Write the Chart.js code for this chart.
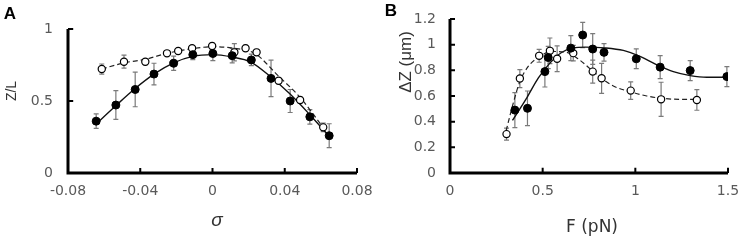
<!DOCTYPE html>
<html>
<head>
<meta charset="utf-8">
<script src="https://cdn.jsdelivr.net/npm/chart.js@4.4.1/dist/chart.umd.min.js"></script>
<style>
  html, body { margin: 0; padding: 0; background: #fff; }
  #wrap { position: relative; width: 744px; height: 240px; }
  .panel { position: absolute; top: 0; width: 372px; height: 240px; }
</style>
</head>
<body>
<div id="wrap">
  <div class="panel" style="left:0"><canvas id="panelA" width="372" height="240"></canvas></div>
  <div class="panel" style="left:372px"><canvas id="panelB" width="372" height="240"></canvas></div>
</div>
<script>
// ---- Panel A: Z/L against sigma ----
const sigmaFilled = [-0.0644, -0.0535, -0.0428, -0.0324, -0.0215, -0.0109, 0.0002, 0.0109, 0.0215, 0.0324, 0.043, 0.0539, 0.0646];
const zlFilled    = [0.36, 0.472, 0.58, 0.687, 0.762, 0.822, 0.83, 0.815, 0.785, 0.657, 0.5, 0.39, 0.259];
const zlFilledErr = [0.05, 0.1, 0.12, 0.075, 0.05, 0.035, 0.05, 0.05, 0.04, 0.127, 0.08, 0.05, 0.083];

const sigmaOpen  = [-0.0613, -0.049, -0.0372, -0.0252, -0.019, -0.0113, -0.0002, 0.0121, 0.0183, 0.0244, 0.0366, 0.0485, 0.0613];
const zlOpen     = [0.722, 0.773, 0.773, 0.831, 0.847, 0.866, 0.882, 0.838, 0.866, 0.838, 0.641, 0.507, 0.317];
const zlOpenErr  = [0.035, 0.045, 0.02, 0.015, 0.015, 0.015, 0.02, 0.06, 0.02, 0.02, 0.02, 0.02, 0.03];

// fitted curves
const sigmaFitSolid = [-0.0645, -0.054, -0.043, -0.032, -0.0215, -0.011, 0, 0.011, 0.021, 0.032, 0.0425, 0.0535, 0.064];
const zlFitSolid    = [0.34, 0.462, 0.585, 0.69, 0.765, 0.81, 0.822, 0.805, 0.772, 0.67, 0.553, 0.41, 0.264];
const sigmaFitDash  = [-0.0613, -0.049, -0.037, -0.025, -0.012, 0, 0.012, 0.0235, 0.036, 0.0485, 0.0545, 0.061];
const zlFitDash     = [0.722, 0.765, 0.79, 0.832, 0.862, 0.877, 0.866, 0.83, 0.68, 0.525, 0.43, 0.32];

const sigmaTicks = [-0.08, -0.04, 0, 0.04, 0.08];
const sigmaTickLabels = ['-0.08', '-0.04', '0', '0.04', '0.08'];
const zlTicks = [0, 0.5, 1];
const zlTickLabels = ['0', '0.5', '1'];

// ---- Panel B: delta Z against F ----
const fFilled     = [0.35, 0.418, 0.512, 0.53, 0.652, 0.716, 0.77, 0.831, 1.005, 1.134, 1.296, 1.494];
const dzFilled    = [0.49, 0.504, 0.79, 0.9, 0.973, 1.075, 0.966, 0.94, 0.89, 0.825, 0.798, 0.751];
const dzFilledErr = [0.137, 0.135, 0.12, 0.086, 0.098, 0.098, 0.12, 0.068, 0.077, 0.089, 0.078, 0.078];

const fOpen     = [0.305, 0.377, 0.481, 0.539, 0.578, 0.665, 0.77, 0.818, 0.975, 1.139, 1.332];
const dzOpen    = [0.303, 0.736, 0.913, 0.952, 0.89, 0.934, 0.79, 0.738, 0.642, 0.574, 0.569];
const dzOpenErr = [0.047, 0.07, 0.05, 0.1, 0.1, 0.06, 0.09, 0.117, 0.068, 0.133, 0.08];

const fFitSolid  = [0.337, 0.416, 0.476, 0.539, 0.602, 0.665, 0.73, 0.836, 0.935, 1.025, 1.116, 1.205, 1.296, 1.386, 1.494];
const dzFitSolid = [0.41, 0.59, 0.739, 0.856, 0.939, 0.975, 0.981, 0.975, 0.955, 0.908, 0.843, 0.79, 0.759, 0.746, 0.746];
const fFitDash   = [0.303, 0.341, 0.377, 0.422, 0.485, 0.548, 0.629, 0.70, 0.773, 0.818, 0.881, 0.971, 1.062, 1.143, 1.242, 1.332];
const dzFitDash  = [0.33, 0.543, 0.712, 0.83, 0.908, 0.947, 0.94, 0.88, 0.79, 0.738, 0.678, 0.634, 0.6, 0.582, 0.574, 0.574];

const fTicks = [0, 0.5, 1, 1.5];
const fTickLabels = ['0', '0.5', '1', '1.5'];
const dzTicks = [0, 0.2, 0.4, 0.6, 0.8, 1, 1.2];
const dzTickLabels = ['0', '0.2', '0.4', '0.6', '0.8', '1', '1.2'];

function pts(xs, ys) {
    return xs.map((x, i) => ({ x: x, y: ys[i] }));
}

// vertical error bars with small caps, drawn under the markers
const errorBars = {
    id: 'errorBars',
    beforeDatasetsDraw(chart) {
        const ctx = chart.ctx;
        const xs = chart.scales.x, ys = chart.scales.y;
        ctx.save();
        ctx.strokeStyle = '#7a7a7a';
        ctx.lineWidth = 1.2;
        chart.data.datasets.forEach(ds => {
            if (!ds.errors) return;
            ds.data.forEach((p, i) => {
                const e = ds.errors[i];
                const px = xs.getPixelForValue(p.x);
                const top = ys.getPixelForValue(p.y + e);
                const bot = ys.getPixelForValue(p.y - e);
                ctx.beginPath();
                ctx.moveTo(px, top); ctx.lineTo(px, bot);
                ctx.moveTo(px - 2.5, top); ctx.lineTo(px + 2.5, top);
                ctx.moveTo(px - 2.5, bot); ctx.lineTo(px + 2.5, bot);
                ctx.stroke();
            });
        });
        ctx.restore();
    }
};

// axis titles and panel letter
const titles = {
    id: 'titles',
    afterDraw(chart, args, opts) {
        const ctx = chart.ctx;
        opts.items.forEach(it => {
            ctx.save();
            ctx.translate(it.x, it.y);
            if (it.rotate) ctx.rotate(it.rotate);
            ctx.font = it.font;
            ctx.fillStyle = it.color;
            ctx.textAlign = 'center';
            ctx.textBaseline = 'middle';
            ctx.fillText(it.text, 0, 0);
            ctx.restore();
        });
    }
};

// the L-shaped frame (left and bottom axis) as a plain line dataset
function axisFrame(xmin, xmax, ymin, ymax) {
    return {
        data: [{ x: xmin, y: ymax }, { x: xmin, y: ymin }, { x: xmax, y: ymin }],
        showLine: true,
        pointRadius: 0,
        borderColor: '#000',
        borderWidth: 3,
        borderJoinStyle: 'miter',
        tension: 0,
        clip: false,
        order: 0
    };
}

// short inward tick marks, one segment per tick, separated by gaps
function axisTicks(xTicks, yTicks, xmin, xmax, ymin, ymax) {
    const dy = (ymax - ymin) * 0.034;
    const dx = (xmax - xmin) * 0.018;
    const data = [];
    xTicks.forEach(v => {
        data.push({ x: v, y: ymin }, { x: v, y: ymin + dy }, { x: null, y: null });
    });
    yTicks.forEach(v => {
        data.push({ x: xmin, y: v }, { x: xmin + dx, y: v }, { x: null, y: null });
    });
    return {
        data: data,
        showLine: true,
        spanGaps: false,
        pointRadius: 0,
        borderColor: '#000',
        borderWidth: 2,
        tension: 0,
        clip: false,
        order: 0
    };
}

function axis(min, max, tickVals, tickText, size, horizontal, pad) {
    return {
        type: 'linear',
        min: min,
        max: max,
        afterBuildTicks: s => { s.ticks = tickVals.map(v => ({ value: v })); },
        afterFit: s => {
            if (horizontal) { s.height = size; s.paddingLeft = 0; s.paddingRight = 0; }
            else { s.width = size; s.paddingTop = 0; s.paddingBottom = 0; }
        },
        border: { display: false },
        grid: { display: false, drawTicks: false },
        ticks: {
            color: '#595959',
            autoSkip: false,
            maxRotation: 0,
            font: { family: 'DejaVu Sans', size: 14 },
            padding: pad,
            callback: (v, i) => tickText[i]
        }
    };
}

function fitLine(xs, ys, dashed) {
    return {
        data: pts(xs, ys),
        showLine: true,
        pointRadius: 0,
        borderColor: dashed ? '#222' : '#111',
        borderWidth: dashed ? 1.2 : 1.4,
        borderDash: dashed ? [5, 3] : [],
        cubicInterpolationMode: 'monotone',
        order: dashed ? 3 : 4
    };
}

function markers(xs, ys, errs, open) {
    return {
        data: pts(xs, ys),
        errors: errs,
        showLine: false,
        pointRadius: open ? 3.6 : 4,
        pointBackgroundColor: open ? '#fff' : '#000',
        pointBorderColor: '#000',
        pointBorderWidth: open ? 1.2 : 1,
        order: open ? 2 : 1
    };
}

function baseOptions(pad, xAxis, yAxis, items) {
    return {
        responsive: false,
        animation: false,
        layout: { padding: pad },
        scales: { x: xAxis, y: yAxis },
        plugins: {
            legend: { display: false },
            tooltip: { enabled: false },
            titles: { items: items }
        }
    };
}

new Chart(document.getElementById('panelA'), {
    type: 'scatter',
    data: {
        datasets: [
            fitLine(sigmaFitSolid, zlFitSolid, false),
            fitLine(sigmaFitDash, zlFitDash, true),
            markers(sigmaOpen, zlOpen, zlOpenErr, true),
            markers(sigmaFilled, zlFilled, zlFilledErr, false),
            axisFrame(-0.08, 0.08, 0, 1),
            axisTicks(sigmaTicks, zlTicks, -0.08, 0.08, 0, 1)
        ]
    },
    options: baseOptions(
        { left: 0, top: 29, right: 15, bottom: 0 },
        axis(-0.08, 0.08, sigmaTicks, sigmaTickLabels, 67, true, 10),
        axis(0, 1, zlTicks, zlTickLabels, 68, false, 15),
        [
            { text: 'A', x: 10, y: 14, font: 'bold 17px "Liberation Sans"', color: '#000' },
            { text: 'Z/L', x: 12, y: 91, rotate: -Math.PI / 2, font: '14px "Liberation Sans"', color: '#333' },
            { text: 'σ', x: 217, y: 221, font: 'italic 19px "Liberation Sans"', color: '#333' }
        ]
    ),
    plugins: [errorBars, titles]
});

new Chart(document.getElementById('panelB'), {
    type: 'scatter',
    data: {
        datasets: [
            fitLine(fFitSolid, dzFitSolid, false),
            fitLine(fFitDash, dzFitDash, true),
            markers(fOpen, dzOpen, dzOpenErr, true),
            markers(fFilled, dzFilled, dzFilledErr, false),
            axisFrame(0, 1.5, 0, 1.2),
            axisTicks(fTicks, dzTicks, 0, 1.5, 0, 1.2)
        ]
    },
    options: baseOptions(
        { left: 0, top: 19, right: 16, bottom: 0 },
        axis(0, 1.5, fTicks, fTickLabels, 67, true, 10),
        axis(0, 1.2, dzTicks, dzTickLabels, 78, false, 14),
        [
            { text: 'B', x: 19, y: 11, font: 'bold 17px "Liberation Sans"', color: '#000' },
            { text: 'ΔZ (μm)', x: 34, y: 62, rotate: -Math.PI / 2, font: '17px "Liberation Sans"', color: '#333' },
            { text: 'F (pN)', x: 220, y: 228, font: '17px "DejaVu Sans"', color: '#333' }
        ]
    ),
    plugins: [errorBars, titles]
});
</script>
</body>
</html>
